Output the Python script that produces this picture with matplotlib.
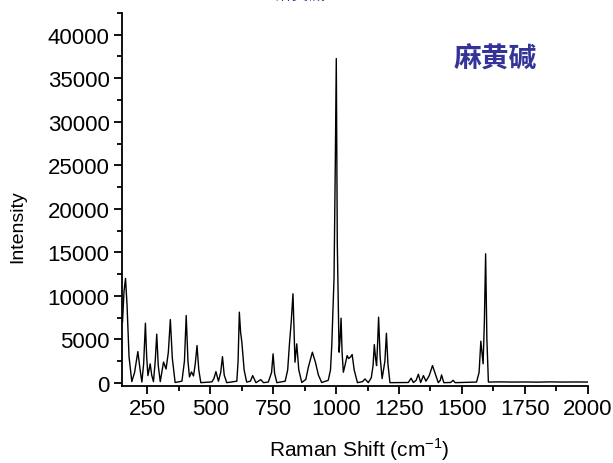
import numpy as np
import matplotlib
matplotlib.use("Agg")
from matplotlib import pyplot as plt
from matplotlib.ticker import MultipleLocator

plt.rcParams['font.family'] = ['Liberation Sans', 'Noto Sans CJK SC', 'DejaVu Sans']

# spectrum (Raman shift in cm-1, intensity)
shift = [152, 158, 164, 170, 178, 189, 200, 213, 222, 229, 236, 243, 248, 253,
         262, 268, 275, 282, 288, 294, 302, 315, 325, 334, 342, 350, 361, 388,
         398, 405, 412, 418, 426, 434, 441, 448, 455, 463, 507, 515, 523, 533,
         542, 549, 556, 566, 606, 611, 616, 621, 626, 635, 645, 660, 669, 682,
         701, 712, 731, 744, 750, 756, 765, 798, 808, 815, 822, 829, 837, 844,
         852, 864, 880, 890, 906, 918, 930, 943, 969, 978, 983, 992, 997, 1001,
         1005, 1012, 1016, 1020, 1024, 1029, 1037, 1044, 1050, 1058, 1064, 1072,
         1085, 1105, 1115, 1128, 1140, 1147, 1152, 1157, 1161, 1165, 1169, 1175,
         1183, 1194, 1200, 1206, 1214, 1287, 1298, 1307, 1318, 1327, 1336, 1347,
         1357, 1370, 1383, 1392, 1406, 1414, 1419, 1428, 1455, 1465, 1473, 1558,
         1568, 1575, 1584, 1589, 1594, 1599, 1605, 1650, 1700, 1750, 1800, 1850,
         1900, 1950, 2000]
intensity = [7000, 10500, 12000, 9000, 3000, 150, 1200, 3600, 1500, 100, 2200, 6860,
             3000, 840, 2190, 900, 150, 2500, 5600, 2000, 150, 2400, 1600, 3500,
             7280, 2800, 50, 200, 2500, 7740, 2500, 690, 1260, 800, 2200, 4290,
             1500, 30, 120, 500, 1300, 200, 1200, 3020, 900, 30, 200, 2500, 8130,
             5800, 4680, 1500, 100, 200, 840, 30, 380, 30, 100, 1200, 3340, 1100,
             30, 200, 1500, 4490, 7000, 10240, 2380, 4490, 1500, 50, 400, 1800,
             3530, 2380, 900, 50, 300, 1500, 4290, 12000, 25000, 37260, 16000,
             3530, 5000, 7440, 3500, 1230, 2200, 3140, 2800, 3000, 3260, 1500,
             30, 150, 460, 30, 600, 2000, 4400, 2800, 1990, 4500, 7550, 3000,
             500, 2500, 5700, 2200, 30, 50, 540, 50, 300, 1000, 50, 840, 200,
             840, 1990, 1220, 30, 300, 920, 30, 50, 300, 30, 100, 1200, 4800,
             2190, 7000, 14840, 5000, 100, 120, 100, 110, 90, 120, 100, 110, 100]

fig = plt.figure(figsize=(6.13, 4.64), dpi=100)
ax = fig.add_axes([0.199, 0.166, 0.76, 0.804])
ax.plot(shift, intensity, color='black', linewidth=1.0)

ax.set_xlim(150, 2000)
ax.set_ylim(-350, 42500)
ax.xaxis.set_major_locator(MultipleLocator(250))
ax.xaxis.set_minor_locator(MultipleLocator(125))
ax.yaxis.set_major_locator(MultipleLocator(5000))
ax.yaxis.set_minor_locator(MultipleLocator(2500))
ax.set_xticks(np.arange(250, 2001, 250))

for s in ['top', 'right']:
    ax.spines[s].set_visible(False)
for s in ['left', 'bottom']:
    ax.spines[s].set_linewidth(1.3)
ax.tick_params(which='major', direction='out', length=6, width=1.3, labelsize=16, pad=3)
ax.tick_params(which='minor', direction='out', length=3.5, width=1.3)

ax.set_xlabel('Raman Shift (cm$^{\\mathregular{-1}}$)', fontsize=15)
ax.set_ylabel('Intensity', fontsize=14)
ax.xaxis.set_label_coords(0.51, -0.132)
ax.yaxis.set_label_coords(-0.205, 0.43)

ax.text(0.80, 0.877, '麻黄碱', transform=ax.transAxes, ha='center', va='center',
        fontsize=20, fontweight='bold', color='#333399',
        family=['Noto Sans CJK SC', 'DejaVu Sans'])
fig.text(0.49, 0.992, '麻黄碱', ha='center', va='bottom', fontsize=12,
         color='#333399', family=['Noto Sans CJK SC', 'DejaVu Sans'])

fig.savefig('out.png', dpi=100)
